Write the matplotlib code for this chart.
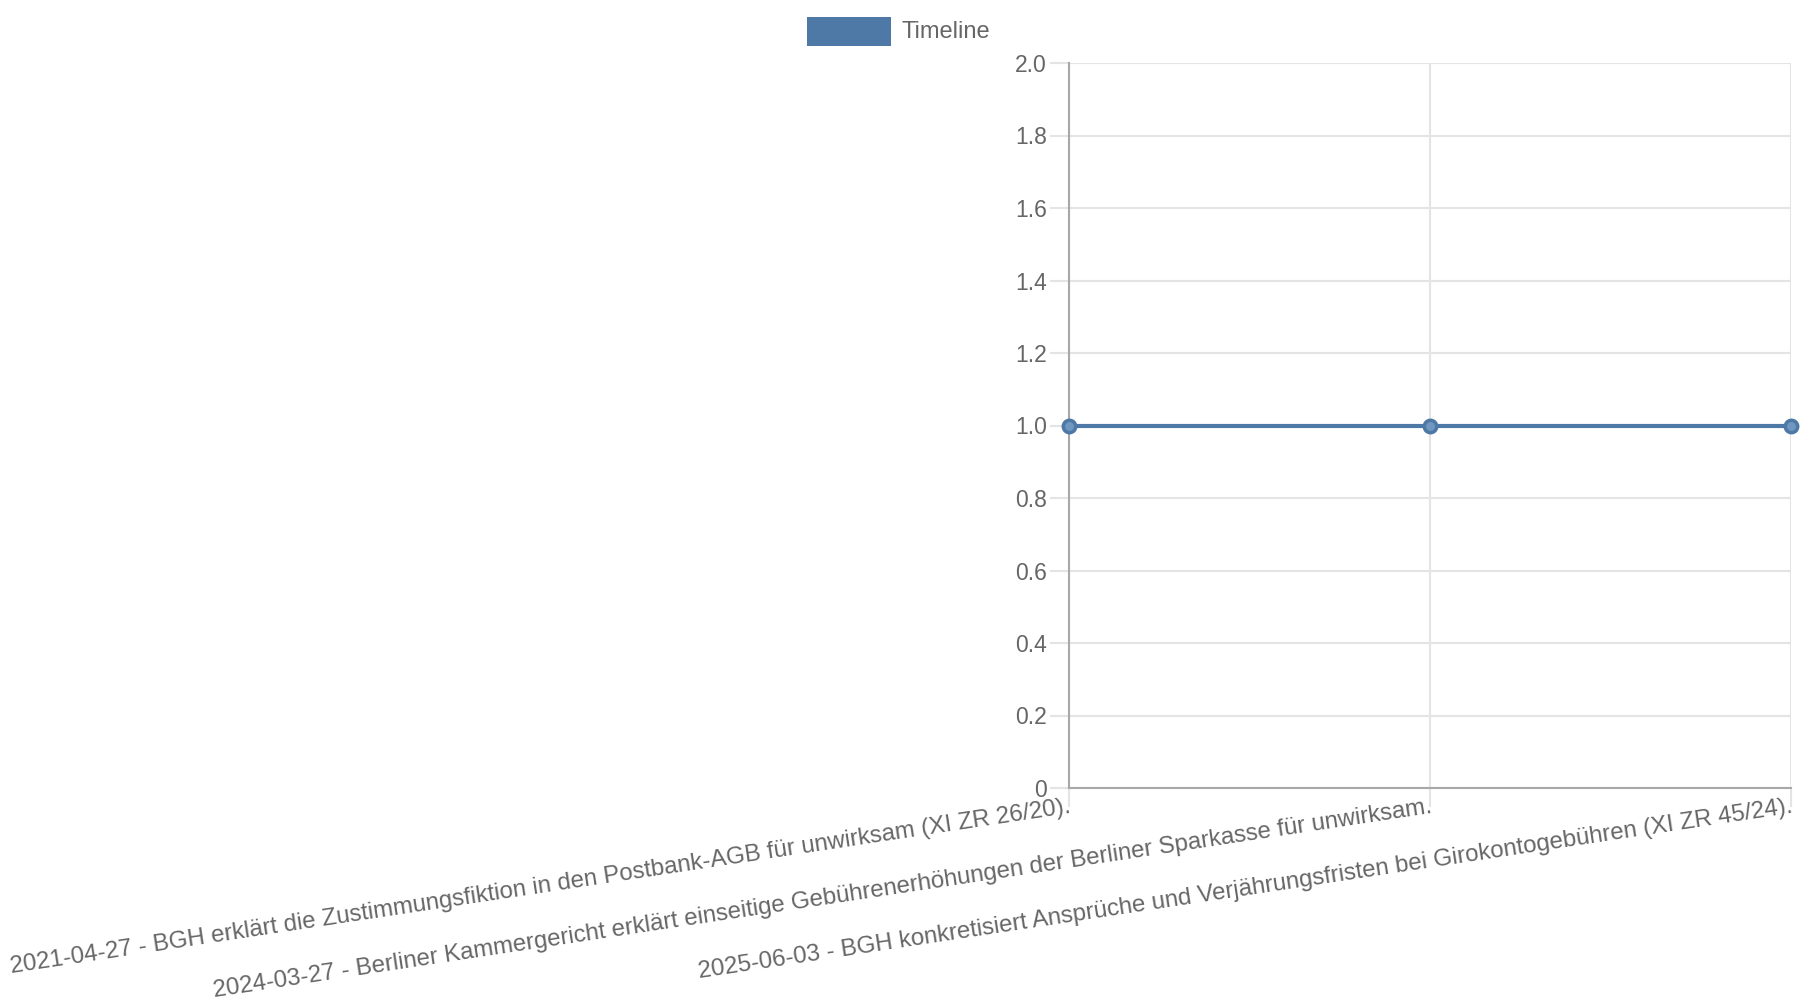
import matplotlib
matplotlib.use("Agg")
import matplotlib.pyplot as plt
from matplotlib.patches import Rectangle

plt.rcParams['font.family'] = ['Liberation Sans', 'DejaVu Sans']

events = [
    "2021-04-27 - BGH erklärt die Zustimmungsfiktion in den Postbank-AGB für unwirksam (XI ZR 26/20).",
    "2024-03-27 - Berliner Kammergericht erklärt einseitige Gebührenerhöhungen der Berliner Sparkasse für unwirksam.",
    "2025-06-03 - BGH konkretisiert Ansprüche und Verjährungsfristen bei Girokontogebühren (XI ZR 45/24).",
]
values = [1, 1, 1]
yticks = [0, 0.2, 0.4, 0.6, 0.8, 1.0, 1.2, 1.4, 1.6, 1.8, 2.0]
ytick_labels = ["0", "0.2", "0.4", "0.6", "0.8", "1.0", "1.2", "1.4", "1.6", "1.8", "2.0"]

blue = '#4e79a7'
txt = '#666666'
grid = '#e4e4e4'
axis_c = '#a8a8a8'

fig = plt.figure(figsize=(18, 10), dpi=100)
ax = fig.add_axes([0.594, 0.212, 0.401, 0.725])

x = list(range(len(events)))
ax.plot(x, values, color=blue, linewidth=3, zorder=3, clip_on=False)
ax.scatter(x, values, s=80, facecolor='#7097c0', edgecolor=blue, linewidth=2.5,
           zorder=4, clip_on=False)

ax.set_xlim(0, len(events) - 1)
ax.set_ylim(0, 2)
ax.set_yticks(yticks, labels=ytick_labels)
ax.set_xticks(x, labels=events)

ax.grid(True, color=grid, linewidth=1.5)
ax.set_axisbelow(True)
for s in ['top', 'right']:
    ax.spines[s].set_visible(False)
for s in ['left', 'bottom']:
    ax.spines[s].set_color(axis_c)
    ax.spines[s].set_linewidth(1.5)

ax.tick_params(axis='y', length=14, width=1.5, color=grid, pad=2,
               labelsize=16.5, labelcolor=txt)
ax.tick_params(axis='x', length=13.7, width=1.5, color=grid, pad=-8,
               labelsize=17.3, labelcolor=txt)
for lbl in ax.get_xticklabels():
    lbl.set_rotation(8.6)
    lbl.set_ha('right')
    lbl.set_va('top')
    lbl.set_rotation_mode('anchor')

# legend
fig.patches.append(Rectangle((807 / 1800, 1 - 46 / 1000), 84 / 1800, 29 / 1000,
                             transform=fig.transFigure, facecolor=blue,
                             edgecolor='none'))
fig.text(901 / 1800, 1 - 31.5 / 1000, "Timeline", color=txt, fontsize=17,
         ha='left', va='center')

fig.savefig('out.png', dpi=100)
